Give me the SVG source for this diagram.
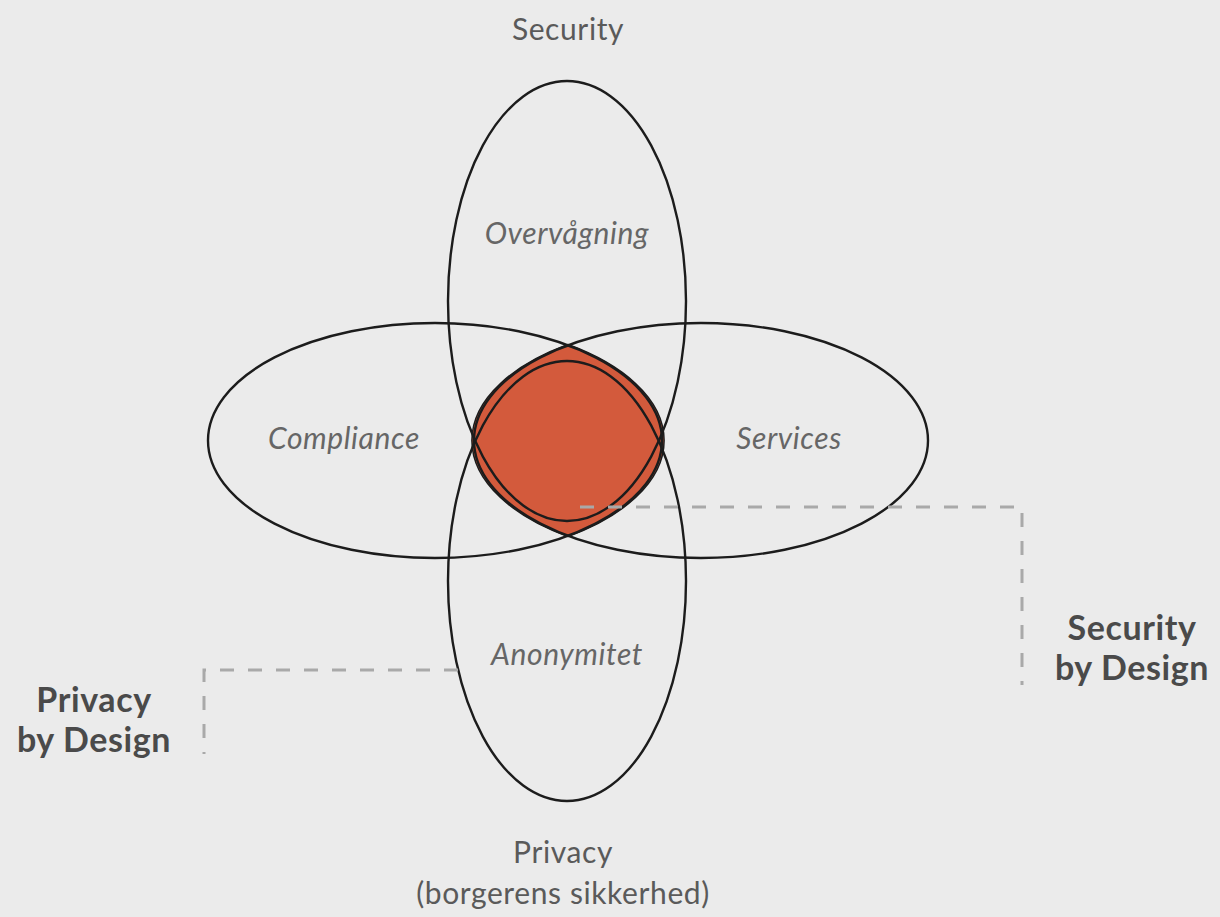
<svg xmlns="http://www.w3.org/2000/svg" width="1220" height="917" viewBox="0 0 1220 917">
  <style>
    .ring { fill: none; stroke: #1c1c1c; stroke-width: 2.4; }
    .core { fill: #d35a3c; stroke: #1c1c1c; stroke-width: 1.5; }
    .lead { fill: none; stroke: #a9a9a9; stroke-width: 3; stroke-dasharray: 14 14; }
    .axis { font-family: Lato, "Open Sans", sans-serif; font-size: 30px; letter-spacing: 0.6px; fill: #5a5a5a; text-anchor: middle; }
    .area { font-family: Lato, "Open Sans", sans-serif; font-style: italic; font-size: 30px; letter-spacing: 0.6px; fill: #666666; text-anchor: middle; }
    .tag { font-family: Lato, "Open Sans", sans-serif; font-weight: bold; font-size: 34px; letter-spacing: 0.6px; fill: #4a4a4a; text-anchor: middle; }
  </style>
  <rect width="1220" height="917" fill="#ebebeb"/>

  <!-- shared core: overlap of the two horizontal rings -->
  <g id="core">
    <path class="core" d="M568 344.5 A227 117.5 0 0 1 568 536.5 A227 117.5 0 0 1 568 344.5 Z"/>
  </g>

  <g id="security">
    <ellipse class="ring" cx="567" cy="301" rx="119" ry="220"/>
    <text class="axis" x="568" y="40">Security</text>
    <text class="area" x="567" y="244">Overvågning</text>
  </g>

  <g id="privacy">
    <ellipse class="ring" cx="567" cy="581" rx="119" ry="220"/>
    <text class="axis" x="563" y="863">Privacy</text>
    <text class="axis" x="563" y="904">(borgerens sikkerhed)</text>
    <text class="area" x="567" y="665">Anonymitet</text>
  </g>

  <g id="compliance">
    <ellipse class="ring" cx="435" cy="440.5" rx="227" ry="117.5"/>
    <text class="area" x="344" y="449">Compliance</text>
  </g>

  <g id="services">
    <ellipse class="ring" cx="701" cy="440.5" rx="227" ry="117.5"/>
    <text class="area" x="789" y="449">Services</text>
  </g>

  <g id="connectors">
    <polyline class="lead" points="580,507 1022,507 1022,685"/>
    <polyline class="lead" points="458,670 204,670 204,754"/>
  </g>

  <g id="security-by-design">
    <text class="tag" x="1132" y="640">Security</text>
    <text class="tag" x="1132" y="680">by Design</text>
  </g>

  <g id="privacy-by-design">
    <text class="tag" x="94" y="712">Privacy</text>
    <text class="tag" x="94" y="752">by Design</text>
  </g>
</svg>
